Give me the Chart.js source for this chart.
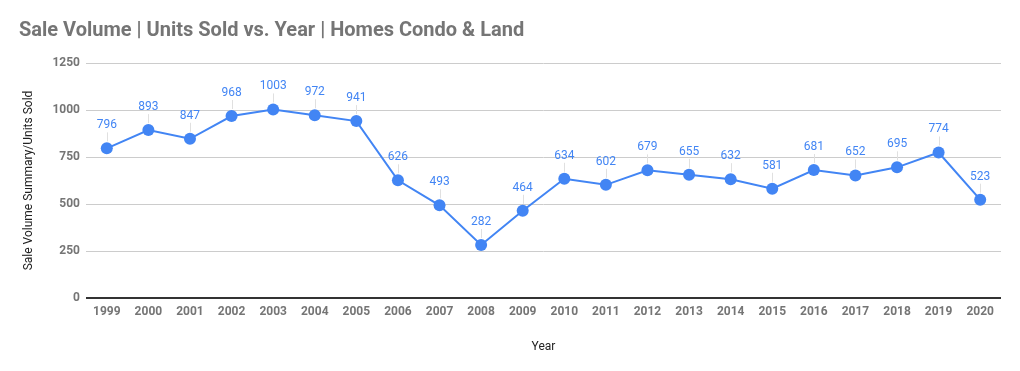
<!DOCTYPE html>
<html>
<head>
<meta charset="utf-8">
<script src="https://cdn.jsdelivr.net/npm/chart.js@4"></script>
<style>
  html, body { margin: 0; padding: 0; background: #fff; }
  #wrap { width: 1020px; height: 371px; }
</style>
</head>
<body>
<div id="wrap"><canvas id="salesChart" width="1020" height="371"></canvas></div>
<script>
// chart data
const years = ['1999', '2000', '2001', '2002', '2003', '2004', '2005', '2006', '2007', '2008', '2009',
    '2010', '2011', '2012', '2013', '2014', '2015', '2016', '2017', '2018', '2019', '2020'];
const unitsSold = [796, 893, 847, 968, 1003, 972, 941, 626, 493, 282, 464,
    634, 602, 679, 655, 632, 581, 681, 652, 695, 774, 523];
const yTicks = [0, 250, 500, 750, 1000, 1250];

const blue = '#4285F4';

// value labels above each point, with a faint leader line
const pointLabels = {
    id: 'pointLabels',
    afterDatasetsDraw(chart) {
        const ctx = chart.ctx;
        const meta = chart.getDatasetMeta(0);
        ctx.save();
        ctx.font = '12px Roboto';
        ctx.textAlign = 'center';
        ctx.textBaseline = 'middle';
        meta.data.forEach((pt, i) => {
            ctx.strokeStyle = '#e0e0e0';
            ctx.lineWidth = 1;
            ctx.beginPath();
            ctx.moveTo(Math.round(pt.x) + 0.5, pt.y - 7);
            ctx.lineTo(Math.round(pt.x) + 0.5, pt.y - 16);
            ctx.stroke();
            ctx.fillStyle = blue;
            ctx.fillText(String(unitsSold[i]), pt.x, pt.y - 23);
        });
        ctx.restore();
    }
};

new Chart(document.getElementById('salesChart').getContext('2d'), {
    type: 'line',
    data: {
        labels: years,
        datasets: [{
            data: unitsSold,
            borderColor: blue,
            backgroundColor: blue,
            borderWidth: 2,
            pointRadius: 6,
            pointHoverRadius: 6,
            pointBorderWidth: 0,
            tension: 0
        }]
    },
    options: {
        responsive: false,
        animation: false,
        layout: { padding: { left: 19, right: 19, top: 0, bottom: 0 } },
        plugins: {
            legend: { display: false },
            tooltip: { enabled: false },
            title: {
                display: true,
                text: 'Sale Volume | Units Sold vs. Year | Homes Condo & Land',
                align: 'start',
                color: '#757575',
                font: { family: 'Roboto', size: 20, weight: 'bold' },
                padding: { top: 19, bottom: 20 }
            }
        },
        scales: {
            x: {
                offset: true,
                grid: { display: false, drawTicks: false },
                border: { display: false },
                ticks: {
                    color: '#757575',
                    font: { family: 'Roboto', size: 12, weight: 'bold' },
                    padding: 7,
                    maxRotation: 0,
                    autoSkip: false
                },
                title: {
                    display: true,
                    text: 'Year',
                    color: '#222',
                    font: { family: 'Roboto', size: 12 },
                    padding: { top: 0, bottom: 17 }
                },
                afterFit(scale) { scale.height = 73; }
            },
            y: {
                min: 0,
                max: 1250,
                afterBuildTicks(scale) { scale.ticks = yTicks.map(v => ({ value: v })); },
                grid: {
                    drawTicks: false,
                    color: ctx => ctx.tick && ctx.tick.value === 0 ? '#333' : '#ccc',
                    lineWidth: ctx => ctx.tick && ctx.tick.value === 0 ? 2 : 1
                },
                border: { display: false },
                ticks: {
                    color: '#757575',
                    font: { family: 'Roboto', size: 12, weight: 'bold' },
                    padding: 6,
                    callback: v => String(v)
                },
                title: {
                    display: true,
                    text: 'Sale Volume Summary/Units Sold',
                    color: '#222',
                    font: { family: 'Roboto', size: 12 },
                    padding: { top: 3, bottom: 0 }
                },
                afterFit(scale) { scale.width = 67; }
            }
        }
    },
    plugins: [pointLabels]
});
</script>
</body>
</html>
